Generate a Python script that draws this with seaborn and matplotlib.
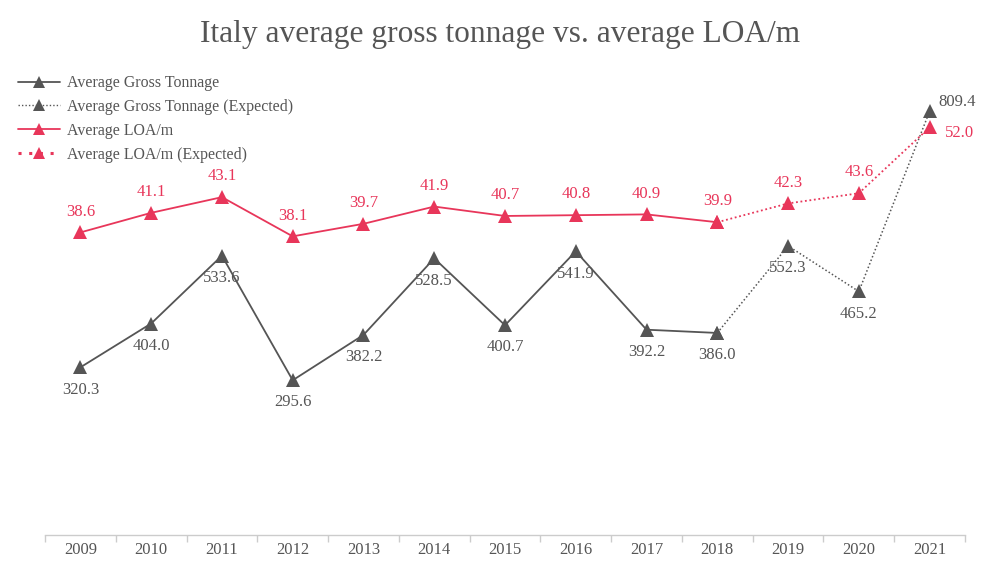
import matplotlib
matplotlib.use("Agg")
import matplotlib.pyplot as plt
import seaborn as sns
import pandas as pd
from matplotlib.lines import Line2D

years = ["2009", "2010", "2011", "2012", "2013", "2014", "2015", "2016",
         "2017", "2018", "2019", "2020", "2021"]
gross_tonnage = [320.3, 404.0, 533.6, 295.6, 382.2, 528.5, 400.7, 541.9,
                 392.2, 386.0, 552.3, 465.2, 809.4]
loa = [38.6, 41.1, 43.1, 38.1, 39.7, 41.9, 40.7, 40.8, 40.9, 39.9, 42.3, 43.6, 52.0]
n_actual = 10  # 2009-2018 actual, 2018-2021 expected

GREY = "#555555"
RED = "#e8365a"
FONT = ["Liberation Serif", "DejaVu Serif"]

sns.set_theme(style="white")
plt.rcParams["font.family"] = FONT

df = pd.DataFrame({"x": range(len(years)), "year": years,
                   "gt": gross_tonnage, "loa": loa})
act = df.iloc[:n_actual]
exp = df.iloc[n_actual - 1:]

fig = plt.figure(figsize=(10, 5.68), dpi=100)
ax = fig.add_axes([0.045, 0.0581, 0.92, 0.8363])
ax2 = ax.twinx()

sns.lineplot(data=act, x="x", y="gt", ax=ax, color=GREY, lw=1.3,
             marker="^", markersize=10, markeredgewidth=0)
sns.lineplot(data=exp, x="x", y="gt", ax=ax, color=GREY, lw=1.1,
             linestyle=(0, (1, 1.5)), marker="^", markersize=10, markeredgewidth=0)
sns.lineplot(data=act, x="x", y="loa", ax=ax2, color=RED, lw=1.3,
             marker="^", markersize=10, markeredgewidth=0)
sns.lineplot(data=exp, x="x", y="loa", ax=ax2, color=RED, lw=1.3,
             linestyle=(0, (1, 1.5)), marker="^", markersize=10, markeredgewidth=0)

ax.set_xlim(-0.5, len(years) - 0.5)
ax.set_ylim(0, 907.5)
ax2.set_ylim(0, 60.6)

LFS = 12
for i, (x, v) in enumerate(zip(df["x"], df["gt"])):
    if i == len(years) - 1:
        ax.annotate(f"{v:.1f}", (x, v), xytext=(6, 7), textcoords="offset points",
                    ha="left", va="center", color=GREY, fontsize=LFS)
    else:
        ax.annotate(f"{v:.1f}", (x, v), xytext=(0, -16), textcoords="offset points",
                    ha="center", va="center", color=GREY, fontsize=LFS)
for i, (x, v) in enumerate(zip(df["x"], df["loa"])):
    if i == len(years) - 1:
        ax2.annotate(f"{v:.1f}", (x, v), xytext=(11, -4), textcoords="offset points",
                     ha="left", va="center", color=RED, fontsize=LFS)
    else:
        ax2.annotate(f"{v:.1f}", (x, v), xytext=(0, 15), textcoords="offset points",
                     ha="center", va="center", color=RED, fontsize=LFS)

ax.set_xticks(df["x"])
ax.set_xticklabels(years, fontsize=12, color=GREY)
ax.set_xticks([i - 0.5 for i in range(len(years) + 1)], minor=True)
ax.tick_params(axis="x", which="major", length=0, pad=5)
ax.tick_params(axis="x", which="minor", length=5, color="#cccccc", width=1, bottom=True)
ax.set_yticks([])
ax2.set_yticks([])
ax.set_xlabel("")
ax.set_ylabel("")
ax2.set_ylabel("")
for a in (ax, ax2):
    for s in ("top", "left", "right"):
        a.spines[s].set_visible(False)
    a.spines["bottom"].set_color("#cccccc")
    a.spines["bottom"].set_linewidth(1)
ax2.spines["bottom"].set_visible(False)

handles = [
    Line2D([], [], color=GREY, lw=1.3, marker="^", markersize=8, markeredgewidth=0),
    Line2D([], [], color=GREY, lw=1.0, linestyle=(0, (1, 1.5)), marker="^",
           markersize=8, markeredgewidth=0),
    Line2D([], [], color=RED, lw=1.3, marker="^", markersize=8, markeredgewidth=0),
    Line2D([], [], color=RED, lw=2.2, linestyle=(0, (1, 2.5)), marker="^",
           markersize=8, markeredgewidth=0),
]
labels = ["Average Gross Tonnage", "Average Gross Tonnage (Expected)",
          "Average LOA/m", "Average LOA/m (Expected)"]
leg = fig.legend(handles, labels, loc="upper left", bbox_to_anchor=(0.012, 0.879),
                 frameon=False, fontsize=11.4, handlelength=2.6, handletextpad=0.45,
                 labelspacing=0.5, borderaxespad=0)
for t in leg.get_texts():
    t.set_color(GREY)

fig.text(0.5, 0.94, "Italy average gross tonnage vs. average LOA/m",
         ha="center", va="center", fontsize=22.6, color=GREY)

fig.savefig("out.png", dpi=100, facecolor="white")
